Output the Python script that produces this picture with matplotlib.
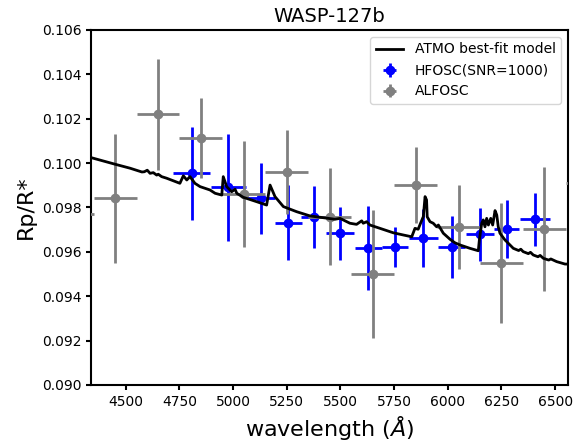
import matplotlib
matplotlib.use("Agg")
import matplotlib.pyplot as plt

# ATMO best-fit model
model_wl = [4330, 4341, 4450, 4520, 4575, 4586, 4600, 4613, 4628, 4644, 4651, 4667,
            4690, 4752, 4768, 4784, 4799, 4822, 4846, 4892, 4916, 4947, 4954, 4970,
            4993, 5009, 5017, 5047, 5110, 5156, 5172, 5195, 5234, 5296, 5358, 5420,
            5474, 5498, 5544, 5575, 5599, 5606, 5622, 5637, 5684, 5746, 5793, 5832,
            5847, 5862, 5873, 5886, 5894, 5901, 5904, 5917, 5932, 5948, 5956, 5979,
            6010, 6033, 6057, 6103, 6142, 6147, 6158, 6165, 6173, 6181, 6189, 6200,
            6209, 6220, 6228, 6235, 6243, 6266, 6305, 6330, 6340, 6351, 6375, 6385,
            6398, 6420, 6430, 6445, 6470, 6480, 6507, 6546, 6570]
model_rp = [0.10031, 0.10024, 0.09995, 0.09977, 0.09960, 0.09961, 0.09968, 0.09954, 0.09957, 0.09946, 0.09950, 0.09939,
            0.09932, 0.09909, 0.09943, 0.09924, 0.09939, 0.09909, 0.09894, 0.09879, 0.09864, 0.09856, 0.09939, 0.09894,
            0.09871, 0.09882, 0.09864, 0.09846, 0.09826, 0.09811, 0.09901, 0.09849, 0.09804, 0.09781, 0.09762, 0.09754,
            0.09747, 0.09751, 0.09729, 0.09724, 0.09740, 0.09729, 0.09736, 0.09721, 0.09706, 0.09686, 0.09676, 0.09668,
            0.09706, 0.09702, 0.09729, 0.09759, 0.09849, 0.09834, 0.09758, 0.09736, 0.09729, 0.09713, 0.09721, 0.09684,
            0.09657, 0.09641, 0.09631, 0.09616, 0.09605, 0.09654, 0.09729, 0.09744, 0.09713, 0.09751, 0.09721, 0.09751,
            0.09721, 0.09786, 0.09766, 0.09713, 0.09684, 0.09654, 0.09616, 0.09606, 0.09612, 0.09601, 0.09592, 0.09598,
            0.09586, 0.09578, 0.09584, 0.09571, 0.09563, 0.09568, 0.09556, 0.09545, 0.09545]

# HFOSC (SNR=1000)
hf_wl = [4807, 4977, 5128, 5257, 5377, 5498, 5630, 5754, 5886, 6018, 6150, 6274, 6406]
hf_wl_err = [87, 81, 65, 62, 60, 65, 64, 62, 67, 62, 65, 59, 70]
hf_rp = [0.09954, 0.09891, 0.09841, 0.09732, 0.09759, 0.09684, 0.09616, 0.09621,
         0.09661, 0.09621, 0.09679, 0.09703, 0.09747]
hf_rp_err = [0.0021, 0.0024, 0.0016, 0.0017, 0.0014, 0.0012, 0.0019, 0.0009,
             0.0013, 0.0014, 0.0012, 0.0013, 0.0012]

# ALFOSC
al_wl = [4250, 4450, 4650, 4850, 5050, 5250, 5450, 5650, 5850, 6050, 6250, 6450, 6650]
al_rp = [0.0977, 0.09841, 0.10221, 0.10112, 0.09861, 0.09961, 0.09759, 0.0950,
         0.09901, 0.09711, 0.09551, 0.09702, 0.09909]
al_rp_err = [0.0020, 0.0029, 0.0025, 0.0018, 0.0024, 0.0019, 0.0022, 0.0029,
             0.0017, 0.0019, 0.0027, 0.0028, 0.0020]

fig = plt.figure(figsize=(5.82, 4.41), dpi=100)
ax = fig.add_axes([0.1564, 0.127, 0.8196, 0.805])

ax.plot(model_wl, model_rp, color="black", lw=2, label="ATMO best-fit model", zorder=5)
ax.errorbar(hf_wl, hf_rp, xerr=hf_wl_err, yerr=hf_rp_err, fmt="o", color="blue",
            ms=6, elinewidth=2, label="HFOSC(SNR=1000)", zorder=3)
ax.errorbar(al_wl, al_rp, xerr=100, yerr=al_rp_err, fmt="o", color="gray",
            ms=6, elinewidth=2, label="ALFOSC", zorder=4)

ax.set_xlim(4338, 6560)
ax.set_ylim(0.090, 0.106)
ax.set_yticks([0.090, 0.092, 0.094, 0.096, 0.098, 0.100, 0.102, 0.104, 0.106])
ax.set_xticks([4500, 4750, 5000, 5250, 5500, 5750, 6000, 6250, 6500])
for s in ax.spines.values():
    s.set_linewidth(1.5)
ax.tick_params(width=1.5)

ax.set_title("WASP-127b", fontsize=14)
ax.set_xlabel(r"wavelength ($\AA$)", fontsize=16)
ax.set_ylabel("Rp/R*", fontsize=16)
ax.legend(loc="upper right")

fig.savefig("out.png", dpi=100)
